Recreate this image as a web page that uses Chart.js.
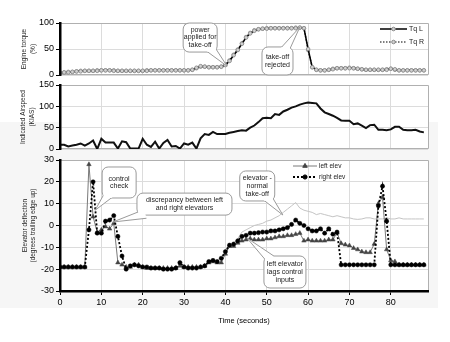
<!DOCTYPE html>
<html><head><meta charset="utf-8">
<script src="https://cdn.jsdelivr.net/npm/chart.js@4.4.0/dist/chart.umd.min.js"></script>
<style>
html,body{margin:0;padding:0;background:#fff;}
#wrap{position:relative;width:450px;height:342px;overflow:hidden;}
#shade{position:absolute;left:0;top:122px;width:438px;height:186px;background:#f6f6f6;}
canvas{position:absolute;left:0;top:0;}
</style></head><body>
<div id="wrap"><div id="shade"></div>
<canvas id="c1" width="450" height="342"></canvas>
<canvas id="c2" width="450" height="342"></canvas>
<canvas id="c3" width="450" height="342"></canvas>
</div>
<script>
// ---------- data (1 sample per second, t = 0..88 s) ----------
const torqueL = [4,5,5,6,7,7,8,8,8,8,9,9,9,8,8,8,8,8,8,8,8,8,9,9,9,9,9,9,9,9,9,9,10,14,17,16,15,15,15,16,19,27,38,48,60,72,80,85,88,89,89,90,90,90,90,90,90,90,91,90,50,15,10,9,9,10,11,13,13,13,13,13,12,11,10,10,10,10,10,10,12,11,9,9,9,9,9,9,9];
const torqueR = [5,5,6,6,7,8,8,8,8,9,9,9,9,9,8,8,8,8,8,8,8,9,9,9,9,9,9,9,9,9,9,9,10,13,16,16,15,15,15,16,20,28,39,49,61,73,81,86,88,89,90,90,90,90,90,90,90,91,91,90,48,15,10,9,9,10,12,13,13,13,14,13,12,11,10,10,10,10,10,11,12,10,9,9,9,9,9,9,9];
const airspeed = [10,10,6,8,10,13,8,13,20,0,24,15,15,15,1,18,16,1,1,1,24,10,5,17,1,14,21,6,7,1,13,10,15,1,25,35,33,40,35,35,35,38,40,42,44,43,50,55,63,72,73,72,82,80,88,92,97,100,104,107,109,108,107,95,86,82,78,73,67,66,66,58,60,55,49,56,57,45,45,44,46,52,52,45,44,44,45,41,39];
const rightElev = [-19,-19,-19,-19,-19,-19,-19,-2,20,-3.5,-3.5,2,2.5,4.5,-5,-14,-20,-18.5,-18,-18.5,-19,-19,-19.5,-19.5,-19.5,-20,-20,-20,-19.5,-17,-19,-19.5,-19.5,-19.5,-19,-18.5,-16.5,-16,-16.5,-15,-12,-9,-8.5,-7,-5,-4.5,-3.5,-3.5,-3.3,-3,-3,-2.5,-2.5,-2,-1.5,-1,0.5,2.5,1,0,-1.5,-2.5,-2.5,-1.5,-3.5,-1.5,-4,-3,-18,-18,-18,-18,-18,-18,-18,-18,-18,9,18,2,-18,-18,-18,-18,-18,-18,-18,-18,-18];
const leftElev = [-19,-19,-19,-19,-19,-19,-19,28,4,-3,-2,-0.5,-1.5,1,-17,-18,-19,-19,-18,-18,-19,-19.5,-19.5,-19.5,-19.5,-19.5,-19.5,-19.5,-19.5,-18.5,-19,-19,-19,-19,-19,-18.5,-17,-16.5,-17,-17,-13,-9.5,-9.5,-8,-7,-6.5,-6,-6.5,-6.5,-6.5,-6,-6,-5.5,-5,-5,-4.5,-4.5,-4,-3.5,-7,-6.5,-7,-7,-7,-7,-6.5,-6.5,-3.3,-8.2,-8.8,-9.2,-10.4,-11,-12,-12.3,-12.3,-8.5,10,13,-11,-16,-16.5,-18,-18,-18,-18,-18,-18,-18];
const normalElev = [null,null,null,null,null,null,null,null,null,null,null,null,null,null,null,null,null,null,null,null,null,null,null,null,null,null,null,null,null,null,null,null,null,null,null,null,null,null,null,null,-12,-9,-8,-6,-3,-2,-1,0,0.5,1,2,2.5,3.5,4.5,6,7.5,9,10.5,8,7,6.5,6,5,5.5,5,4.5,4,4.5,4,3.5,3.5,3,2.8,3,3.5,3.5,3,3,3,3.5,3,3,3.5,3,3,3,3,3,3];
const timeSec = torqueL.map((_, i) => i);
const torqueTicks = {min:0, max:100, step:50};
const speedTicks = {min:0, max:150, step:50};
const elevTicks = {min:-30, max:30, step:10};

// ---------- helpers ----------
const FONT = '"Liberation Sans", Arial, sans-serif';
Chart.defaults.font.family = FONT;
Chart.defaults.color = '#000';
const pts = arr => arr.map((v, i) => ({x: timeSec[i], y: v}));
const GRID = '#dcdcdc';

function options(yt, padTop, padBottom, showX, bottomFrame) {
  return {
    responsive:false, animation:false, events:[], devicePixelRatio:1,
    layout:{padding:{left:0,right:22,top:padTop,bottom:padBottom}},
    plugins:{legend:{display:false}, tooltip:{enabled:false}, frame:{bottom:bottomFrame}},
    scales:{
      x:{type:'linear', min:0, max:89,
        afterBuildTicks:s=>{s.ticks=s.ticks.filter(t=>t.value%10===0);},
        ticks:{display:showX, stepSize:10, color:'#000', font:{size:9}, padding:2, maxRotation:0, autoSkip:false},
        grid:{color:c=>(c.tick && c.tick.value===0)?'rgba(0,0,0,0)':GRID, drawTicks:showX, tickLength:4, tickColor:'#000', tickWidth:1},
        border:{display:showX, color:'#000', width:2.5, z:1},
        title: showX ? {display:true, text:'Time (seconds)', font:{size:7.5}, color:'#000', padding:{top:0,bottom:0}} : {display:false},
        afterFit:s=>{s.height = showX ? 34 : 0;}
      },
      y:{min:yt.min, max:yt.max,
        ticks:{stepSize:yt.step, color:'#000', font:{size:9}, padding:2},
        grid:{color:c=>(showX && c.tick && c.tick.value===yt.min)?'rgba(0,0,0,0)':GRID, tickLength:4, tickColor:'#000'},
        border:{color:'#000', width:2.5, z:1},
        afterFit:s=>{s.width=60;}
      }
    }
  };
}

const framePlugin = {
  id:'frame',
  beforeDatasetsDraw(chart, args, opts){
    const {ctx, chartArea:a} = chart;
    ctx.save(); ctx.strokeStyle='#b0b0b0'; ctx.lineWidth=1;
    const L=Math.round(a.left), R=Math.round(a.right)+0.5, T=Math.round(a.top)+0.5, B=Math.round(a.bottom)-0.5;
    ctx.beginPath(); ctx.moveTo(L,T); ctx.lineTo(R,T); ctx.lineTo(R,B);
    if (opts.bottom) ctx.lineTo(L,B);
    ctx.stroke(); ctx.restore();
  },
  beforeDraw(chart){
    const {ctx, chartArea:a} = chart;
    ctx.save(); ctx.fillStyle='#fff'; ctx.fillRect(a.left,a.top,a.width,a.height); ctx.restore();
  }
};
Chart.register(framePlugin);

function yTitle(lines, xs){
  return {id:'ytitle', afterDraw(chart){
    const {ctx, chartArea:a} = chart; const cy=(a.top+a.bottom)/2;
    ctx.save(); ctx.font='6.5px '+FONT; ctx.fillStyle='#222'; ctx.textAlign='center'; ctx.textBaseline='middle';
    lines.forEach((l,i)=>{ctx.save(); ctx.translate(xs[i],cy); ctx.rotate(-Math.PI/2); ctx.fillText(l,0,0); ctx.restore();});
    ctx.restore();
  }};
}

function drawMarker(ctx, style, x, y, r, fill, stroke){
  ctx.save(); ctx.fillStyle=fill; ctx.strokeStyle=stroke; ctx.lineWidth=1; ctx.setLineDash([]);
  ctx.beginPath();
  if (style==='triangle'){ ctx.moveTo(x,y-r); ctx.lineTo(x+r*0.87,y+r*0.5); ctx.lineTo(x-r*0.87,y+r*0.5); ctx.closePath(); }
  else ctx.arc(x,y,r,0,Math.PI*2);
  ctx.fill(); ctx.stroke(); ctx.restore();
}

function legend(items, offX, offY, lineLen, gap, fontSize){
  return {id:'mylegend', afterDatasetsDraw(chart){
    const {ctx, chartArea:a} = chart;
    items.forEach((it,i)=>{
      const x0 = a.left+offX, y = a.top+offY+i*gap;
      ctx.save(); ctx.strokeStyle=it.color; ctx.lineWidth=it.width; ctx.setLineDash(it.dash);
      ctx.beginPath(); ctx.moveTo(x0,y); ctx.lineTo(x0+lineLen,y); ctx.stroke(); ctx.restore();
      drawMarker(ctx, it.marker, x0+lineLen/2, y, it.r, it.fill, it.stroke);
      ctx.save(); ctx.fillStyle='#222'; ctx.font=fontSize+'px '+FONT; ctx.textBaseline='middle'; ctx.textAlign='left';
      ctx.fillText(it.label, x0+lineLen+2, y); ctx.restore();
    });
  }};
}

function callouts(list){
  return {id:'callouts', afterDatasetsDraw(chart){
    const {ctx, scales:{x, y}} = chart;
    list.forEach(c=>{
      const cx=x.getPixelForValue(c.at[0]), cy=y.getPixelForValue(c.at[1]);
      const tx=x.getPixelForValue(c.tip[0]), ty=y.getPixelForValue(c.tip[1]);
      const L=cx-c.w/2, T=cy-c.h/2;
      const dx=tx-cx, dy=ty-cy, len=Math.hypot(dx,dy), ux=dx/len, uy=dy/len;
      const s=Math.min((c.w/2)/Math.max(Math.abs(dx),1e-6),(c.h/2)/Math.max(Math.abs(dy),1e-6));
      const ex=cx+dx*s-ux*5, ey=cy+dy*s-uy*5, nx=-uy, ny=ux, hw=4.5;
      const p1=[ex+nx*hw,ey+ny*hw], p2=[ex-nx*hw,ey-ny*hw];
      ctx.save(); ctx.lineWidth=1; ctx.strokeStyle='#9a9a9a'; ctx.fillStyle='#fff'; ctx.setLineDash([]);
      ctx.beginPath(); ctx.roundRect(L,T,c.w,c.h,6); ctx.fill(); ctx.stroke();
      ctx.beginPath(); ctx.moveTo(p1[0],p1[1]); ctx.lineTo(tx,ty); ctx.lineTo(p2[0],p2[1]); ctx.closePath(); ctx.fill();
      ctx.save(); ctx.beginPath(); ctx.rect(0,0,chart.width,chart.height); ctx.roundRect(L,T,c.w,c.h,6); ctx.clip('evenodd');
      ctx.beginPath(); ctx.moveTo(p1[0],p1[1]); ctx.lineTo(tx,ty); ctx.lineTo(p2[0],p2[1]); ctx.stroke(); ctx.restore();
      ctx.fillStyle='#222'; ctx.font='7px '+FONT; ctx.textAlign='center'; ctx.textBaseline='middle';
      const n=c.text.length, lh=7.6;
      c.text.forEach((t,i)=>ctx.fillText(t,cx,cy+(i-(n-1)/2)*lh));
      ctx.restore();
    });
  }};
}

// ---------- panel 1: engine torque ----------
new Chart(document.getElementById('c1'), {
  type:'line',
  data:{datasets:[
    {label:'Tq L', data:pts(torqueL), borderColor:'#000', borderWidth:1.5, pointStyle:'circle', pointRadius:1.8, pointBackgroundColor:'#d0d0d0', pointBorderColor:'#8a8a8a', pointBorderWidth:0.8},
    {label:'Tq R', data:pts(torqueR), borderColor:'#555', borderWidth:1.5, borderDash:[1.5,1.5], pointStyle:'circle', pointRadius:1.8, pointBackgroundColor:'#d0d0d0', pointBorderColor:'#8a8a8a', pointBorderWidth:0.8}
  ]},
  options:options(torqueTicks, 23, 342-75, false, true),
  plugins:[yTitle(['Engine torque','(%)'],[24,33]),
    callouts([
      {text:['power','applied for','take-off'], at:[33.9,72], w:34, h:29, tip:[40.4,17]},
      {text:['take-off','rejected'], at:[52.6,27], w:31, h:28, tip:[58,92]}
    ]),
    legend([
      {label:'Tq L', color:'#000', width:1.5, dash:[], marker:'circle', r:1.8, fill:'#d0d0d0', stroke:'#8a8a8a'},
      {label:'Tq R', color:'#555', width:1.5, dash:[1.5,1.5], marker:'circle', r:1.8, fill:'#d0d0d0', stroke:'#8a8a8a'}
    ], 320, 6, 27, 13, 7)]
});

// ---------- panel 2: indicated airspeed ----------
new Chart(document.getElementById('c2'), {
  type:'line',
  data:{datasets:[
    {label:'IAS', data:pts(airspeed), borderColor:'#111', borderWidth:2, pointRadius:0, tension:0}
  ]},
  options:options(speedTicks, 85, 342-149, false, true),
  plugins:[yTitle(['Indicated Airspeed','(KIAS)'],[23,32])]
});

// ---------- panel 3: elevator deflection ----------
new Chart(document.getElementById('c3'), {
  type:'line',
  data:{datasets:[
    {label:'right elev', data:pts(rightElev), borderColor:'#000', borderWidth:1.8, borderDash:[2,2], pointStyle:'circle', pointRadius:2.1, pointBackgroundColor:'#000', pointBorderColor:'#000', pointBorderWidth:0.5},
    {label:'left elev', data:pts(leftElev), borderColor:'#7a7a7a', borderWidth:1, pointStyle:'triangle', pointRadius:2.6, pointBackgroundColor:'#444', pointBorderColor:'#444', pointBorderWidth:0.5},
    {label:'normal', data:pts(normalElev), borderColor:'#c4c4c4', borderWidth:1, pointRadius:0, spanGaps:false}
  ]},
  options:options(elevTicks, 160, 17, true, false),
  plugins:[yTitle(['Elevator deflection','(degrees trailing edge up)'],[25,33]),
    callouts([
      {text:['control','check'], at:[14.3,19.7], w:34, h:31, tip:[8.5,7]},
      {text:['discrepancy between left','and right elevators'], at:[30.1,9.8], w:95, h:22, tip:[12.8,1.6]},
      {text:['elevator -','normal','take-off'], at:[47.7,18.1], w:35, h:30, tip:[53.9,4.8]},
      {text:['left elevator','lags control','inputs'], at:[54.4,-21.3], w:42, h:32, tip:[45.2,-5.7]}
    ]),
    legend([
      {label:'left elev', color:'#7a7a7a', width:1, dash:[], marker:'triangle', r:2.6, fill:'#444', stroke:'#444'},
      {label:'right elev', color:'#000', width:1.8, dash:[2,2], marker:'circle', r:2.1, fill:'#000', stroke:'#000'}
    ], 233, 6, 24, 11, 6.5)]
});
</script>
</body></html>
